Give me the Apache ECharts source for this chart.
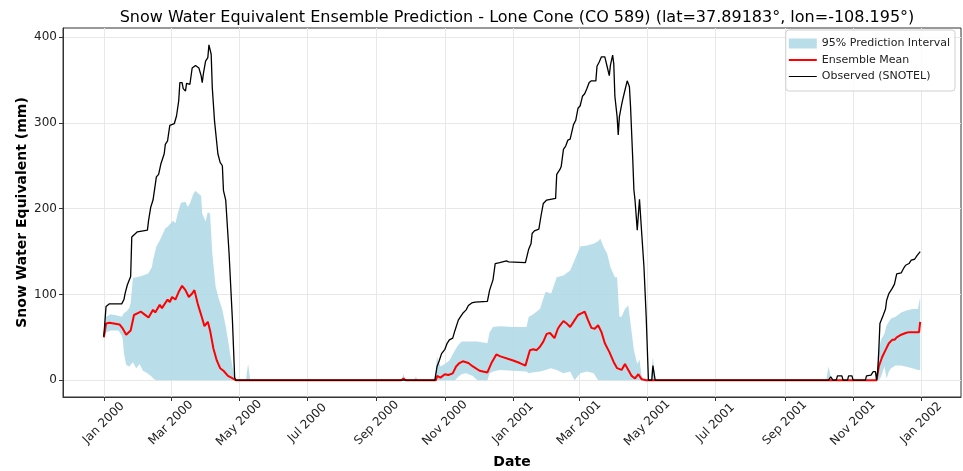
<!DOCTYPE html>
<html>
<head>
<meta charset="utf-8">
<script src="https://cdn.jsdelivr.net/npm/echarts@6/dist/echarts.min.js"></script>
<style>
  html, body { margin: 0; padding: 0; background: #fff; }
  #chart { width: 963px; height: 471px; }
</style>
</head>
<body>
<div id="chart"></div>
<script>
// x values are days since 2000-01-01
const tickDays = [0, 60, 121, 182, 244, 305, 366, 425, 486, 547, 609, 670, 731];
const tickLabels = ['Jan 2000', 'Mar 2000', 'May 2000', 'Jul 2000', 'Sep 2000', 'Nov 2000',
  'Jan 2001', 'Mar 2001', 'May 2001', 'Jul 2001', 'Sep 2001', 'Nov 2001', 'Jan 2002'];
const yTicks = [0, 100, 200, 300, 400];

// observed SNOTEL (mm)
const obsDays = [
  0, 2, 5, 16, 18, 19, 21, 22, 24, 25, 30, 39, 40, 42, 44, 47, 49, 51, 54, 55, 57, 59, 63, 65, 67, 68, 70, 71, 73, 74,
  77, 79, 82, 85, 87, 88, 89, 91, 93, 94, 96, 97, 99, 102, 104, 106, 107, 109, 112, 115, 117, 118,
  296, 298, 300, 302, 305, 307, 309, 312, 314, 317, 319, 321, 324, 326, 329, 332, 343, 345, 348, 350, 354, 360, 362, 377,
  380, 382, 383, 385, 389, 391, 393, 396, 404, 405, 408, 409, 411, 413, 415, 417, 420, 422, 424, 426, 428, 430, 432, 434,
  436, 440, 441, 443, 445, 448, 450, 452, 453, 455, 456, 457, 459, 460, 461, 463, 464, 466, 468, 470, 471, 472, 473, 474,
  475, 477, 479, 481, 483, 485, 487, 490, 491, 493,
  648, 650, 652, 655, 656, 660, 661, 665, 666, 669, 670, 681, 682, 686, 688, 690, 691, 692, 693, 694, 697, 699, 700, 702,
  705, 707, 709, 713, 715, 717, 720, 722, 725, 727, 730
];
const obsVals = [
  51, 86, 89, 89, 94, 101, 111, 113, 121, 167, 173, 175, 186, 202, 210, 237, 240, 252, 264, 275, 279, 297, 299, 308, 326, 347, 347, 340, 337, 346,
  345, 364, 367, 364, 355, 347, 357, 372, 376, 391, 380, 341, 302, 264, 254, 250, 221, 210, 148, 70, 3, 0,
  0, 16, 23, 31, 36, 43, 47, 49, 58, 70, 74, 78, 82, 87, 90, 91, 92, 105, 117, 136, 137, 139, 138, 137,
  153, 159, 171, 174, 176, 192, 206, 210, 212, 240, 246, 249, 269, 273, 280, 281, 298, 303, 317, 320, 331, 334, 340, 347,
  349, 349, 366, 371, 377, 377, 366, 355, 367, 379, 369, 331, 307, 286, 307, 321, 327, 338, 349, 342, 319, 288, 257, 222,
  210, 175, 211, 171, 132, 74, 0, 0, 17, 0,
  0, 4, 0, 0, 5, 5, 0, 0, 5, 5, 0, 0, 5, 6, 10, 10, 0, 10, 35, 66, 76, 83, 93, 101,
  107, 112, 124, 125, 130, 134, 136, 140, 141, 145, 150
];

// ensemble mean (mm)
const meanDays = [
  0, 2, 5, 14, 17, 20, 24, 27, 30, 33, 36, 40, 44, 46, 50, 52, 57, 59, 61, 64, 67, 70, 73, 76, 79, 81, 84, 88, 90, 93,
  95, 98, 101, 104, 107, 111, 114, 118, 266, 268, 270,
  297, 298, 301, 305, 308, 312, 315, 318, 321, 326, 330, 336, 343, 347, 351, 354, 366, 372, 377, 381, 384, 387, 390, 393,
  396, 399, 403, 406, 408, 411, 414, 417, 420, 424, 427, 430, 433, 436, 439, 442, 445, 448, 452, 456, 459, 463, 466, 469,
  472, 475, 478, 481, 485, 490, 491, 494,
  691, 693, 696, 699, 700, 702, 705, 707, 709, 713, 717, 720, 729, 730
];
const meanVals = [
  50, 66, 67, 65, 60, 53, 58, 76, 78, 80, 77, 73, 82, 79, 88, 84, 94, 91, 97, 94, 103, 110, 105, 97, 101, 105, 89, 72, 63, 68,
  58, 37, 23, 14, 11, 5, 3, 0, 0, 2, 0,
  0, 5, 3, 7, 6, 8, 16, 20, 22, 20, 16, 11, 9, 21, 30, 28, 23, 20, 17, 35, 36, 35, 39, 45,
  54, 55, 49, 60, 64, 69, 66, 62, 68, 76, 78, 80, 70, 61, 60, 64, 56, 43, 33, 21, 14, 12, 19, 12,
  5, 2, 7, 1, 0, 0, 2, 0,
  0, 16, 27, 35, 37, 43, 47, 47, 50, 53, 55, 56, 56, 68
];

// 95% prediction interval (mm)
const bandDays = [
  0, 2, 6, 13, 16, 17, 18, 20, 21, 23, 24, 26, 29, 32, 35, 39, 40, 43, 44, 47, 50, 55, 57, 62, 64, 66, 69, 73, 75, 77,
  80, 82, 85, 87, 88, 91, 93, 95, 97, 100, 103, 106, 109, 112, 113, 115, 117, 118, 127, 129, 131, 266, 268, 270, 277, 279, 281, 296,
  298, 301, 305, 309, 314, 317, 320, 324, 330, 334, 343, 345, 348, 354, 366, 378, 380, 383, 390, 395, 400, 405, 411, 417,
  421, 426, 432, 438, 442, 444, 447, 450, 453, 457, 459, 461, 463, 466, 469, 471, 474, 477, 479, 481, 484, 489, 491, 493,
  646, 648, 649, 651,
  691, 693, 695, 698, 700, 702, 704, 708, 713, 717, 723, 728, 730
];
const bandLow = [
  50, 56, 58, 58, 52, 47, 31, 18, 17, 16, 18, 21, 14, 19, 11, 8, 7, 4, 2, 0, 0, 0, 0, 0, 0, 0, 0, 0, 0, 0,
  0, 0, 0, 0, 0, 0, 0, 0, 0, 0, 0, 0, 0, 0, 0, 0, 0, 0, 0, 0, 0, 0, 0, 0, 0, 0, 0, 0,
  0, 0, 0, 0, 0, 4, 7, 8, 5, 0, 0, 8, 10, 12, 11, 10, 8, 9, 10, 12, 14, 12, 8, 10,
  0, 8, 10, 8, 0, 0, 0, 0, 0, 0, 0, 0, 0, 0, 0, 0, 0, 0, 0, 0, 0, 0, 0, 0,
  0, 0, 0, 0,
  0, 0, 4, 16, 2, 10, 14, 17, 17, 16, 14, 12, 12
];
const bandHigh = [
  51, 74, 77, 75, 74, 76, 78, 80, 81, 85, 90, 119, 120, 121, 122, 124, 125, 132, 140, 156, 163, 177, 179, 186, 183, 194, 207, 208, 202, 206,
  217, 221, 217, 215, 194, 185, 196, 194, 148, 109, 94, 82, 63, 39, 30, 16, 3, 0, 0, 19, 0, 0, 7, 0, 0, 4, 0, 0,
  27, 16, 19, 23, 35, 41, 45, 45, 45, 45, 43, 56, 62, 63, 62, 62, 74, 76, 83, 103, 101, 120, 122, 128,
  140, 156, 157, 159, 162, 165, 155, 148, 132, 120, 120, 74, 74, 83, 87, 66, 35, 19, 24, 4, 0, 0, 27, 0,
  0, 16, 10, 0,
  0, 35, 47, 54, 64, 68, 72, 74, 79, 81, 83, 83, 97
];

const zip = (xs, ys) => xs.map((x, i) => [x, ys[i]]);
const FONT = 'DejaVu Sans';
const BAND = 'rgba(173,216,230,0.85)';

// band drawn as a single polygon: upper edge forward, lower edge back
function renderBand(params, api) {
  if (params.dataIndex !== 0) return null;
  const top = bandDays.map((d, i) => api.coord([d, bandHigh[i]]));
  const bottom = bandDays.map((d, i) => api.coord([d, bandLow[i]])).reverse();
  return {
    type: 'polygon',
    shape: { points: top.concat(bottom) },
    style: { fill: BAND }
  };
}

const chart = echarts.init(document.getElementById('chart'));
chart.setOption({
  animation: false,
  textStyle: { fontFamily: FONT },
  title: {
    text: 'Snow Water Equivalent Ensemble Prediction - Lone Cone (CO 589) (lat=37.89183°, lon=-108.195°)',
    left: 512,
    textAlign: 'center',
    top: 5,
    textStyle: { fontFamily: FONT, fontSize: 16, fontWeight: 'normal', color: '#000' }
  },
  legend: {
    orient: 'vertical',
    right: 8,
    top: 30,
    padding: [8, 5, 9, 3],
    itemGap: 5.5,
    itemWidth: 28,
    itemHeight: 10,
    backgroundColor: 'rgba(255,255,255,0.8)',
    borderColor: '#d0d0d0',
    borderWidth: 1,
    borderRadius: 3,
    textStyle: { fontFamily: FONT, fontSize: 11, color: '#222' },
    data: [
      { name: '95% Prediction Interval', icon: 'rect' },
      { name: 'Ensemble Mean', icon: 'path://M0,0 H28 V2 H0 Z' },
      { name: 'Observed (SNOTEL)', icon: 'path://M0,0 H28 V1 H0 Z' }
    ]
  },
  grid: {
    left: 63, right: 2, top: 28, bottom: 74,
    outerBoundsMode: 'none',
    show: true, borderColor: '#333', borderWidth: 1
  },
  xAxis: {
    type: 'value',
    min: -36.5,
    max: 766.5,
    name: 'Date',
    nameLocation: 'middle',
    nameGap: 58,
    nameTextStyle: { fontFamily: FONT, fontSize: 14, fontWeight: 'bold', color: '#000' },
    axisLine: { onZero: false, lineStyle: { color: '#333' } },
    axisTick: { customValues: tickDays, length: 4, lineStyle: { color: '#333' } },
    axisLabel: {
      customValues: tickDays,
      formatter: v => tickLabels[tickDays.indexOf(v)],
      rotate: 45,
      align: 'center',
      verticalAlign: 'middle',
      margin: 26,
      fontSize: 12,
      color: '#222'
    },
    splitLine: { show: true, lineStyle: { color: '#e8e8e8', width: 1 } }
  },
  yAxis: {
    type: 'value',
    min: -19.6,
    max: 410.6,
    name: 'Snow Water Equivalent (mm)',
    nameLocation: 'middle',
    nameGap: 34,
    nameMoveOverlap: false,
    nameTextStyle: { fontFamily: FONT, fontSize: 14, fontWeight: 'bold', color: '#000' },
    axisLine: { show: true, onZero: false, lineStyle: { color: '#333' } },
    axisTick: { show: true, customValues: yTicks, length: 4, lineStyle: { color: '#333' } },
    axisLabel: { customValues: yTicks, fontSize: 12, color: '#222', margin: 6 },
    splitLine: { show: true, lineStyle: { color: '#e8e8e8', width: 1 } }
  },
  series: [
    {
      name: '95% Prediction Interval',
      type: 'custom',
      silent: true,
      itemStyle: { color: BAND },
      renderItem: renderBand,
      encode: { x: 0, y: [1, 2] },
      data: bandDays.map((d, i) => [d, bandLow[i], bandHigh[i]])
    },
    {
      name: 'Ensemble Mean',
      type: 'line',
      symbol: 'none',
      itemStyle: { color: '#ff0000' },
      lineStyle: { color: '#ff0000', width: 2 },
      data: zip(meanDays, meanVals)
    },
    {
      name: 'Observed (SNOTEL)',
      type: 'line',
      symbol: 'none',
      itemStyle: { color: '#000' },
      lineStyle: { color: '#000', width: 1.3 },
      data: zip(obsDays, obsVals)
    }
  ]
});
</script>
</body>
</html>
